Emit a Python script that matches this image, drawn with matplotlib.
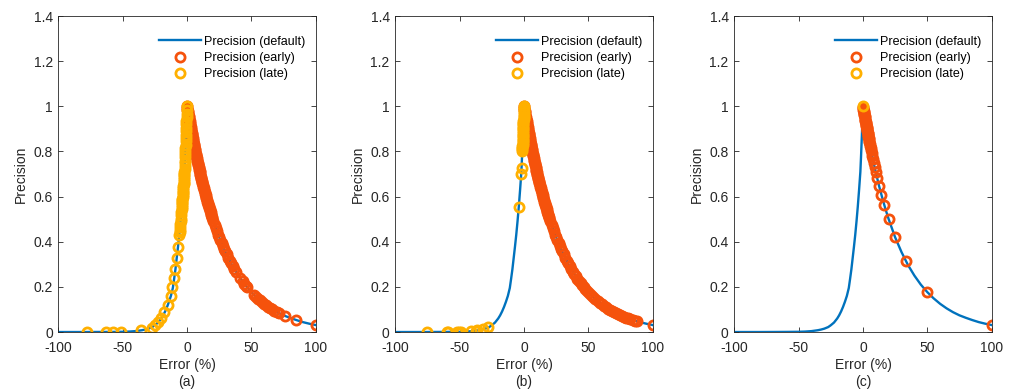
import numpy as np
import matplotlib
matplotlib.use("Agg")
import matplotlib.pyplot as plt
from matplotlib.ticker import FormatStrFormatter

plt.rcParams["font.family"] = ["Liberation Sans", "DejaVu Sans"]
plt.rcParams["axes.unicode_minus"] = False

###############
# Data (read) #
###############
# default precision curve
curve_err = [-100, -80, -70, -60, -50, -45, -40, -37.5, -35, -32.5, -30, -27, -25, -22.5, -20,
             -18.5, -17, -15.5, -14, -12.5, -11, -10, -9, -8, -7, -6, -5, -4, -3, -2, -1.5, -1,
             -0.5, 0,
             1, 2, 3, 5, 7.5, 10, 12.5, 15, 17.5, 20, 25, 30, 35, 40, 45, 50, 55, 60, 65, 70,
             75, 80, 85, 90, 95, 100]
curve_prec = [0, 0, 0.0002, 0.0005, 0.001, 0.002, 0.004, 0.006, 0.008, 0.011, 0.015, 0.022, 0.03,
              0.042, 0.06, 0.074, 0.091, 0.111, 0.134, 0.16, 0.195, 0.235, 0.277, 0.327, 0.377,
              0.43, 0.49, 0.556, 0.63, 0.71, 0.775, 0.845, 0.92, 1.0,
              0.966, 0.933, 0.901, 0.841, 0.771, 0.707, 0.648, 0.595, 0.545, 0.5, 0.42, 0.354,
              0.297, 0.25, 0.21, 0.177, 0.149, 0.125, 0.105, 0.088, 0.074, 0.063, 0.053, 0.044,
              0.037, 0.031]

# shared part of the "early" band (0 .. 38 %)
band_err = [0, 0.2, 0.4, 0.6, 0.8, 1.0, 1.2, 1.4, 1.6, 1.8, 2.0, 2.2, 2.4, 2.6, 2.8, 3.0, 3.2,
            3.4, 3.6, 3.8, 4.0, 4.2, 4.4, 4.6, 4.8, 5.0, 5.2, 5.4, 5.6, 5.8, 6.0,
            6.25, 6.5, 6.75, 7, 7.25, 7.5, 7.75, 8, 8.25, 8.5, 8.75, 9, 9.25, 9.5, 9.75, 10,
            10.25, 10.5, 10.75, 11, 11.25, 11.5, 11.75, 12,
            12.35, 12.7, 13.05, 13.4, 13.75, 14.1, 14.45, 14.8, 15.15, 15.5, 15.85, 16.2,
            16.55, 16.9, 17.25, 17.6, 17.95, 18.3, 18.65, 19.0, 19.35, 19.7,
            20.6, 21.5, 22.4, 23.3, 24.2, 25.1, 26.0, 26.9, 27.8, 28.7, 29.6,
            30.8, 32.0, 33.2, 34.4, 35.6, 36.8, 38.0]
band_prec = [1.0, 0.993, 0.986, 0.979, 0.973, 0.966, 0.959, 0.953, 0.946, 0.940, 0.933, 0.927,
             0.920, 0.914, 0.908, 0.901, 0.895, 0.889, 0.883, 0.877, 0.871, 0.865, 0.859, 0.853,
             0.847, 0.841, 0.835, 0.829, 0.824, 0.818, 0.812,
             0.805, 0.798, 0.791, 0.785, 0.778, 0.771, 0.764, 0.758, 0.751, 0.745, 0.738, 0.732,
             0.726, 0.719, 0.713, 0.707, 0.701, 0.695, 0.689, 0.683, 0.677, 0.671, 0.665, 0.660,
             0.652, 0.644, 0.636, 0.629, 0.621, 0.613, 0.606, 0.599, 0.592, 0.584, 0.577, 0.570,
             0.564, 0.557, 0.550, 0.543, 0.537, 0.530, 0.524, 0.518, 0.511, 0.505,
             0.490, 0.475, 0.460, 0.446, 0.432, 0.419, 0.406, 0.394, 0.382, 0.370, 0.358,
             0.344, 0.330, 0.316, 0.304, 0.291, 0.279, 0.268]

# (a) early
early_a_err = band_err + [41.0, 43.2, 44.4, 45.6, 46.8,
                          52.0, 53.6, 55.2, 56.8, 58.4, 60.0, 61.6, 63.2, 64.8, 66.4, 68.0, 69.6, 71.2,
                          76.4, 85.0, 100]
early_a_prec = band_prec + [0.241, 0.224, 0.215, 0.206, 0.198,
                            0.165, 0.156, 0.148, 0.140, 0.132, 0.125, 0.118, 0.112, 0.106, 0.100,
                            0.095, 0.090, 0.085,
                            0.071, 0.053, 0.031]
# (a) late
late_a_err = [-77.4, -62.9, -57.2, -51.5, -35.9, -27.3, -24.7, -22.3, -20.1, -17.5, -14.4, -12.5,
              -11.3, -10.0, -9.0, -7.9, -6.8,
              -6.0, -5.8, -5.6, -5.4, -5.2, -5.0, -4.8, -4.6, -4.4, -4.2, -4.0, -3.9, -3.8, -3.7,
              -3.6, -3.5, -3.4, -3.3, -3.2, -3.1, -3.0, -2.9, -2.8, -2.7, -2.6, -2.5, -2.4, -2.3,
              -2.2, -2.1, -2.0, -1.9, -1.8, -1.7, -1.6, -1.5, -1.4, -1.3, -1.2, -1.1, -1.0, -0.9,
              -0.8, -0.7, -0.6, -0.5, -0.4, -0.3, -0.2, -0.1, 0.0]
late_a_prec = [0.0, 0.0, 0.0, 0.001, 0.009, 0.02, 0.03, 0.043, 0.06, 0.088, 0.12, 0.16,
               0.198, 0.238, 0.28, 0.33, 0.378,
               0.430, 0.442, 0.454, 0.466, 0.478, 0.490, 0.503, 0.517, 0.530, 0.543, 0.556, 0.563,
               0.570, 0.577, 0.584, 0.591, 0.598, 0.606, 0.614, 0.622, 0.630, 0.638, 0.646, 0.654,
               0.662, 0.670, 0.678, 0.686, 0.694, 0.702, 0.710, 0.722, 0.735, 0.747, 0.760, 0.774,
               0.788, 0.802, 0.816, 0.830, 0.845, 0.860, 0.875, 0.890, 0.905, 0.920, 0.935, 0.951,
               0.967, 0.983, 1.0]

# (b) early
early_b_err = band_err + [39.2, 40.4, 41.6, 42.8, 44.0, 45.2, 46.4, 47.6, 49.2, 50.8, 52.4, 54.0,
                          55.6, 57.2, 58.8, 60.4, 62.0, 63.6, 65.2, 66.8, 68.4, 70.0, 71.6, 73.2,
                          74.8, 76.4, 78.0, 79.6, 81.2, 82.8, 84.4, 86.0, 87.6, 100]
early_b_prec = band_prec + [0.257, 0.247, 0.237, 0.227, 0.218, 0.209, 0.200, 0.192, 0.182, 0.172,
                            0.163, 0.154, 0.146, 0.138, 0.130, 0.123, 0.117, 0.110, 0.104, 0.099,
                            0.093, 0.088, 0.084, 0.079, 0.075, 0.071, 0.067, 0.063, 0.060, 0.057,
                            0.054, 0.051, 0.048, 0.031]
# (b) late
late_b_err = [-75.2, -60.0, -59.0, -52.3, -50.5, -49.0, -41.2, -37.5, -36.3, -32.2, -28.3,
              -4.0, -2.1, -1.9,
              -1.3, -1.25, -1.2, -1.15, -1.1, -1.05, -1.0, -0.95, -0.9, -0.85, -0.8, -0.75, -0.7,
              -0.65, -0.6, -0.55, -0.5, -0.45, -0.4, -0.35, -0.3, -0.25, -0.2, -0.15, -0.1, -0.05, 0.0]
late_b_prec = [0.0, 0.0, 0.0, 0.001, 0.001, 0.001, 0.004, 0.006, 0.008, 0.013, 0.021,
               0.556, 0.70, 0.725,
               0.802, 0.809, 0.816, 0.823, 0.830, 0.838, 0.845, 0.853, 0.860, 0.868, 0.875, 0.883,
               0.890, 0.898, 0.905, 0.913, 0.920, 0.928, 0.935, 0.943, 0.951, 0.959, 0.967, 0.975,
               0.983, 0.992, 1.0]

# (c) early
early_c_err = [100, 50, 33.3, 25, 20, 16.7, 14.3, 12.5, 11.1, 10, 9.09, 8.33, 7.69, 7.14, 6.67,
               6.25, 5.88, 5.56, 5.26, 5.0, 4.76, 4.55, 4.35, 4.17, 4.0, 3.85, 3.7, 3.55, 3.4,
               3.25, 3.1, 2.95, 2.8, 2.65, 2.5, 2.35, 2.2, 2.05, 1.9, 1.75, 1.6, 1.45, 1.3, 1.15,
               1.0, 0.85, 0.7, 0.55, 0.4, 0.25, 0.1]
early_c_prec = [0.031, 0.177, 0.315, 0.420, 0.500, 0.561, 0.609, 0.648, 0.681, 0.707, 0.730,
                0.749, 0.766, 0.781, 0.794, 0.805, 0.816, 0.825, 0.834, 0.841, 0.848, 0.854,
                0.860, 0.866, 0.871, 0.875, 0.880, 0.884, 0.889, 0.894, 0.898, 0.903, 0.908,
                0.912, 0.917, 0.922, 0.927, 0.932, 0.936, 0.941, 0.946, 0.951, 0.956, 0.961,
                0.966, 0.971, 0.976, 0.981, 0.986, 0.991, 0.997]
# (c) late
late_c_err = [0.0]
late_c_prec = [1.0]

panels = ["(a)", "(b)", "(c)"]
early_sets = [(early_a_err, early_a_prec), (early_b_err, early_b_prec), (early_c_err, early_c_prec)]
late_sets = [(late_a_err, late_a_prec), (late_b_err, late_b_prec), (late_c_err, late_c_prec)]

c_line = "#0072BD"
c_early = "#F5520C"
c_late = "#FFB000"
c_axis = "#262626"

fig = plt.figure(figsize=(10.11, 3.92), dpi=100)
lefts = [0.0577, 0.3910, 0.7263]

for i, left in enumerate(lefts):
    ax = fig.add_axes([left, 0.153, 0.2545, 0.806])
    ax.plot(curve_err, curve_prec, "-", color=c_line, lw=1.7, label="Precision (default)")
    ax.plot(*early_sets[i], "o", ls="none", ms=6.6, mew=2.0, mfc="none", mec=c_early,
            label="Precision (early)")
    ax.plot(*late_sets[i], "o", ls="none", ms=6.6, mew=2.0, mfc="none", mec=c_late,
            label="Precision (late)")

    ax.set_xlim(-100, 100)
    ax.set_ylim(0, 1.4)
    ax.set_xticks([-100, -50, 0, 50, 100])
    ax.set_yticks([0, 0.2, 0.4, 0.6, 0.8, 1, 1.2, 1.4])
    ax.yaxis.set_major_formatter(FormatStrFormatter("%g"))
    ax.tick_params(direction="in", top=True, right=True, length=3.5, width=0.6,
                   labelsize=10, colors=c_axis)
    ax.tick_params(axis="x", pad=6.5)
    ax.tick_params(axis="y", pad=4)
    for sp in ax.spines.values():
        sp.set_linewidth(0.6)
        sp.set_color(c_axis)
    ax.set_xlabel("Error (%)\n" + panels[i], fontsize=10, color=c_axis, labelpad=2,
                  linespacing=1.3)
    ax.set_ylabel("Precision", fontsize=10, color=c_axis, labelpad=4)
    ax.legend(loc="upper right", frameon=False, fontsize=9, handlelength=3.3,
              handletextpad=0.3, labelspacing=0.35, borderaxespad=0.4,
              bbox_to_anchor=(1.0, 0.97))

fig.savefig("out.png", dpi=100)
